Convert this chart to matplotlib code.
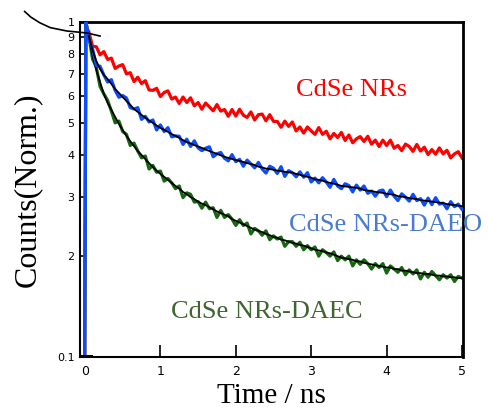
import matplotlib
matplotlib.use("Agg")
import matplotlib.pyplot as plt
from matplotlib.ticker import FixedLocator, FixedFormatter, NullLocator

# ---------------- data ----------------
t_step = [round(0.05 * k, 2) for k in range(1, 101)]

# rise portion (before / at time zero)
rise_t = [-0.07, -0.004, 0.012, 0.03]
rise_v = [0.098, 0.098, 1.0, 0.95]

red_v = [0.938, 0.846, 0.844, 0.798, 0.816, 0.773, 0.780, 0.727, 0.739, 0.746,
         0.700, 0.706, 0.664, 0.684, 0.655, 0.668, 0.627, 0.625, 0.634, 0.599,
         0.616, 0.623, 0.589, 0.597, 0.571, 0.597, 0.575, 0.594, 0.562, 0.575,
         0.549, 0.573, 0.558, 0.543, 0.567, 0.542, 0.548, 0.523, 0.548, 0.524,
         0.549, 0.527, 0.519, 0.539, 0.510, 0.529, 0.531, 0.507, 0.529, 0.505,
         0.505, 0.485, 0.506, 0.488, 0.503, 0.473, 0.486, 0.466, 0.486, 0.473,
         0.462, 0.484, 0.462, 0.472, 0.448, 0.465, 0.452, 0.468, 0.443, 0.460,
         0.436, 0.448, 0.455, 0.440, 0.456, 0.432, 0.444, 0.425, 0.444, 0.428,
         0.444, 0.420, 0.428, 0.413, 0.432, 0.425, 0.411, 0.431, 0.412, 0.423,
         0.402, 0.416, 0.403, 0.421, 0.404, 0.414, 0.393, 0.404, 0.410, 0.393]

blue_v = [0.890, 0.833, 0.742, 0.738, 0.695, 0.662, 0.673, 0.625, 0.596, 0.603,
          0.593, 0.555, 0.550, 0.555, 0.512, 0.523, 0.503, 0.510, 0.476, 0.493,
          0.471, 0.484, 0.454, 0.457, 0.456, 0.431, 0.447, 0.425, 0.442, 0.421,
          0.413, 0.420, 0.424, 0.396, 0.404, 0.408, 0.392, 0.385, 0.402, 0.383,
          0.389, 0.371, 0.387, 0.377, 0.367, 0.381, 0.364, 0.354, 0.371, 0.366,
          0.353, 0.370, 0.346, 0.360, 0.355, 0.345, 0.357, 0.344, 0.355, 0.333,
          0.342, 0.331, 0.343, 0.333, 0.321, 0.339, 0.324, 0.318, 0.329, 0.325,
          0.311, 0.326, 0.315, 0.324, 0.308, 0.313, 0.302, 0.313, 0.315, 0.301,
          0.315, 0.302, 0.293, 0.307, 0.300, 0.292, 0.306, 0.293, 0.297, 0.284,
          0.298, 0.285, 0.299, 0.286, 0.288, 0.277, 0.291, 0.281, 0.286, 0.276]

green_v = [0.911, 0.776, 0.733, 0.642, 0.610, 0.584, 0.542, 0.500, 0.506, 0.471,
           0.462, 0.428, 0.435, 0.412, 0.393, 0.398, 0.364, 0.373, 0.356, 0.359,
           0.335, 0.341, 0.331, 0.318, 0.324, 0.299, 0.309, 0.306, 0.290, 0.291,
           0.278, 0.290, 0.277, 0.279, 0.261, 0.274, 0.261, 0.266, 0.258, 0.247,
           0.257, 0.247, 0.251, 0.233, 0.242, 0.238, 0.231, 0.238, 0.224, 0.230,
           0.225, 0.228, 0.214, 0.221, 0.221, 0.214, 0.220, 0.209, 0.215, 0.209,
           0.213, 0.200, 0.209, 0.205, 0.200, 0.206, 0.194, 0.200, 0.195, 0.200,
           0.187, 0.195, 0.189, 0.195, 0.190, 0.183, 0.190, 0.185, 0.190, 0.178,
           0.187, 0.183, 0.179, 0.185, 0.176, 0.182, 0.177, 0.182, 0.171, 0.179,
           0.173, 0.180, 0.175, 0.170, 0.176, 0.172, 0.176, 0.168, 0.174, 0.172]

# fitted curves (black)
fit_blue_v = [0.908, 0.825, 0.765, 0.724, 0.695, 0.676, 0.653, 0.631, 0.614, 0.597,
              0.581, 0.566, 0.550, 0.539, 0.528, 0.518, 0.508, 0.500, 0.491, 0.483,
              0.476, 0.470, 0.463, 0.457, 0.451, 0.444, 0.438, 0.434, 0.429, 0.425,
              0.421, 0.416, 0.412, 0.408, 0.404, 0.400, 0.396, 0.393, 0.390, 0.387,
              0.385, 0.382, 0.379, 0.377, 0.374, 0.370, 0.368, 0.365, 0.364, 0.362,
              0.360, 0.359, 0.357, 0.356, 0.355, 0.352, 0.350, 0.347, 0.345, 0.343,
              0.339, 0.338, 0.336, 0.333, 0.331, 0.329, 0.327, 0.324, 0.323, 0.322,
              0.321, 0.320, 0.318, 0.315, 0.314, 0.313, 0.311, 0.310, 0.309, 0.307,
              0.306, 0.305, 0.302, 0.301, 0.300, 0.298, 0.297, 0.296, 0.294, 0.293,
              0.292, 0.291, 0.290, 0.289, 0.288, 0.286, 0.285, 0.284, 0.283, 0.282]

fit_green_v = [0.902, 0.792, 0.719, 0.662, 0.610, 0.573, 0.547, 0.521, 0.496, 0.476,
               0.457, 0.441, 0.426, 0.412, 0.401, 0.390, 0.379, 0.369, 0.360, 0.352,
               0.345, 0.338, 0.331, 0.324, 0.318, 0.311, 0.306, 0.300, 0.296, 0.291,
               0.287, 0.284, 0.280, 0.276, 0.272, 0.269, 0.266, 0.263, 0.258, 0.255,
               0.252, 0.249, 0.246, 0.243, 0.240, 0.238, 0.236, 0.233, 0.231, 0.228,
               0.227, 0.224, 0.223, 0.221, 0.219, 0.218, 0.216, 0.215, 0.213, 0.211,
               0.209, 0.208, 0.207, 0.205, 0.204, 0.202, 0.200, 0.198, 0.197, 0.196,
               0.195, 0.193, 0.193, 0.191, 0.190, 0.189, 0.188, 0.187, 0.186, 0.185,
               0.185, 0.183, 0.183, 0.181, 0.181, 0.180, 0.179, 0.178, 0.178, 0.177,
               0.177, 0.176, 0.175, 0.175, 0.174, 0.174, 0.173, 0.173, 0.172, 0.172]

# stray fit segment extending outside the frame (top-left)
stray_t = [-0.80, -0.72, -0.60, -0.46, -0.24, 0.03, 0.20]
stray_v = [1.075, 1.035, 0.995, 0.962, 0.940, 0.927, 0.908]

# baseline tick-like segment at bottom left
base_t = [-0.07, 0.09]
base_v = [0.101, 0.101]

labels = ["CdSe NRs", "CdSe NRs-DAEO", "CdSe NRs-DAEC"]
y_tick_vals = [0.1, 0.2, 0.3, 0.4, 0.5, 0.6, 0.7, 0.8, 0.9, 1.0]
y_tick_labels = ["0.1", "2", "3", "4", "5", "6", "7", "8", "9", "1"]
x_tick_vals = [0, 1, 2, 3, 4, 5]

# ---------------- drawing ----------------
RED = "#ff0000"
BLUE = "#0d4dff"
GREEN = "#16680f"

fig = plt.figure(figsize=(4.89, 4.08), dpi=100)
ax = fig.add_axes([80 / 489, 1 - 357 / 408, 383 / 489, 335 / 408])

LW = 2.3
ax.plot(rise_t + t_step, rise_v + red_v, color=RED, lw=LW, zorder=2)
ax.plot(rise_t + t_step, rise_v + green_v, color=GREEN, lw=LW, zorder=2)
ax.plot(t_step, fit_green_v, color="black", lw=1.3, zorder=3)
ax.plot(rise_t + t_step, rise_v + blue_v, color=BLUE, lw=LW, zorder=4)
ax.plot(t_step, fit_blue_v, color="black", lw=1.3, zorder=5)
ax.plot(stray_t, stray_v, color="black", lw=1.2, clip_on=False, zorder=6)
ax.plot(base_t, base_v, color="black", lw=1.5, zorder=6)

ax.set_yscale("log")
ax.set_ylim(0.1, 1.0)
ax.set_xlim(-0.066, 5.013)

ax.yaxis.set_major_locator(FixedLocator(y_tick_vals))
ax.yaxis.set_major_formatter(FixedFormatter(y_tick_labels))
ax.yaxis.set_minor_locator(NullLocator())
ax.set_xticks(x_tick_vals)
ax.set_xticklabels([str(v) for v in x_tick_vals])
ax.xaxis.set_minor_locator(NullLocator())

ax.tick_params(axis="x", direction="in", length=9, width=1.2, labelsize=9, pad=6,
               top=False)
ax.tick_params(axis="y", direction="in", length=4, width=1.2, labelsize=8, pad=4,
               right=False)
for lab in ax.get_xticklabels() + ax.get_yticklabels():
    lab.set_fontfamily("DejaVu Sans")

for s in ax.spines.values():
    s.set_linewidth(1.5)
ax.spines["top"].set_linewidth(2)
ax.spines["right"].set_linewidth(2)

serif = "Liberation Serif"
ax.set_xlabel("Time / ns", fontfamily=serif, fontsize=21, labelpad=3.5)
ax.set_ylabel("Counts(Norm.)", fontfamily=serif, fontsize=23, labelpad=11)

ax.text(3.54, 0.627, labels[0], color=RED, fontfamily=serif, fontsize=19,
        ha="center", va="center")
ax.text(3.98, 0.248, labels[1], color="#4a7bd0", fontfamily=serif, fontsize=19,
        ha="center", va="center", clip_on=False)
ax.text(2.41, 0.136, labels[2], color="#3f6530", fontfamily=serif, fontsize=19,
        ha="center", va="center")

fig.savefig("out.png", dpi=100)
